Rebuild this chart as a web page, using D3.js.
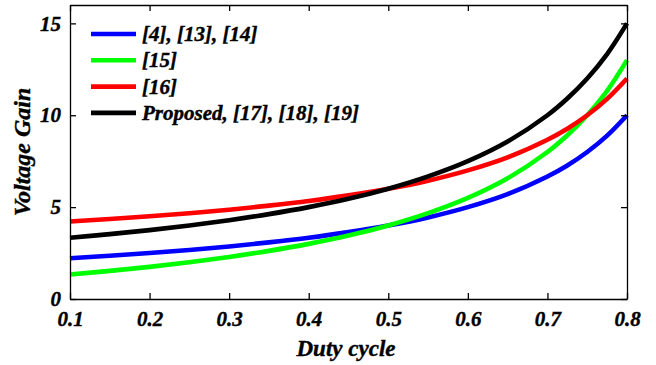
<!DOCTYPE html>
<html>
<head>
<meta charset="utf-8">
<script src="https://d3js.org/d3.v7.min.js"></script>
<style>
  body { margin: 0; background: #fff; }
  svg { display: block; }
</style>
</head>
<body>
<svg id="chart" width="656" height="365"></svg>
<script>
// duty cycle samples
const duty = [0.1, 0.15, 0.2, 0.25, 0.3, 0.35, 0.4, 0.45, 0.5, 0.55, 0.6, 0.65, 0.7, 0.725, 0.75, 0.775, 0.8];

// voltage gain
const gainRef4 = [2.22, 2.35, 2.5, 2.67, 2.86, 3.08, 3.33, 3.64, 4, 4.44, 5, 5.71, 6.67, 7.27, 8, 8.89, 10];
const gainRef15 = [1.33, 1.53, 1.75, 2, 2.29, 2.62, 3, 3.45, 4, 4.67, 5.5, 6.57, 8, 8.91, 10, 11.33, 13];
const gainRef16 = [4.22, 4.35, 4.5, 4.67, 4.86, 5.08, 5.33, 5.64, 6, 6.44, 7, 7.71, 8.67, 9.27, 10, 10.89, 12];
const gainProposed = [3.33, 3.53, 3.75, 4, 4.29, 4.62, 5, 5.45, 6, 6.67, 7.5, 8.57, 10, 10.91, 12, 13.33, 15];

const seriesNames = ['[4], [13], [14]', '[15]', '[16]', 'Proposed, [17], [18], [19]'];
const seriesColors = ['#0000ff', '#00ff00', '#ff0000', '#000000'];
const seriesValues = [gainRef4, gainRef15, gainRef16, gainProposed];

const xTicks = [0.1, 0.2, 0.3, 0.4, 0.5, 0.6, 0.7, 0.8];
const yTicks = [0, 5, 10, 15];

const FONT = '"Liberation Serif", "Times New Roman", Times, serif';

const margin = {top: 5, right: 29, bottom: 66, left: 70};
const width = 656, height = 365;

const svg = d3.select('#chart');

const x = d3.scaleLinear().domain([0.1, 0.8]).range([margin.left, width - margin.right]);
const y = d3.scaleLinear().domain([0, 16]).range([height - margin.bottom, margin.top]);

// lines
const line = d3.line()
    .x(d => x(d[0]))
    .y(d => y(d[1]))
    .curve(d3.curveCatmullRom.alpha(0.5));

const plot = svg.append('g');

seriesValues.forEach((vals, i) => {
  plot.append('path')
      .attr('d', line(duty.map((d, j) => [d, vals[j]])))
      .attr('fill', 'none')
      .attr('stroke', seriesColors[i])
      .attr('stroke-width', 4.6);
});

// axes (ticks inward)
const fmtX = d3.format('.1f');
const xAxisB = d3.axisBottom(x).tickValues(xTicks).tickFormat(fmtX).tickSizeInner(-6).tickSizeOuter(0).tickPadding(12);
const xAxisT = d3.axisTop(x).tickValues(xTicks).tickFormat('').tickSizeInner(-6).tickSizeOuter(0);
const yAxisL = d3.axisLeft(y).tickValues(yTicks).tickSizeInner(-6).tickSizeOuter(0).tickPadding(9);
const yAxisR = d3.axisRight(y).tickValues(yTicks).tickFormat('').tickSizeInner(-6).tickSizeOuter(0);

const gB = svg.append('g').attr('transform', 'translate(0,' + (height - margin.bottom) + ')').call(xAxisB);
const gT = svg.append('g').attr('transform', 'translate(0,' + margin.top + ')').call(xAxisT);
const gL = svg.append('g').attr('transform', 'translate(' + margin.left + ',0)').call(yAxisL);
const gR = svg.append('g').attr('transform', 'translate(' + (width - margin.right) + ',0)').call(yAxisR);

[gB, gT, gL, gR].forEach(g => {
  g.attr('font-family', FONT).attr('font-size', 21);
  g.select('.domain').attr('stroke', '#000').attr('stroke-width', 1.3);
  g.selectAll('.tick line').attr('stroke', '#000').attr('stroke-width', 1.3);
  g.selectAll('.tick text')
      .attr('fill', '#000')
      .attr('stroke', '#000')
      .attr('stroke-width', 0.4)
      .attr('font-weight', 'bold')
      .attr('font-style', 'italic');
});

// axis titles
function label(sel, size) {
  return sel.attr('font-family', FONT)
      .attr('font-weight', 'bold')
      .attr('font-style', 'italic')
      .attr('font-size', size)
      .attr('stroke', '#000')
      .attr('stroke-width', 0.4);
}

label(svg.append('text'), 23)
    .attr('x', 346)
    .attr('y', 356)
    .attr('text-anchor', 'middle')
    .text('Duty cycle');

label(svg.append('text'), 24)
    .attr('transform', 'translate(30,152) rotate(-90)')
    .attr('text-anchor', 'middle')
    .text('Voltage Gain');

// legend
const legend = svg.append('g').attr('transform', 'translate(91,34)');
seriesNames.forEach((name, i) => {
  const row = legend.append('g').attr('transform', 'translate(0,' + (i * 26.3) + ')');
  row.append('line')
      .attr('x1', 0).attr('x2', 45)
      .attr('stroke', seriesColors[i])
      .attr('stroke-width', 4.6);
  label(row.append('text'), 21)
      .attr('x', 51).attr('y', 7)
      .text(name);
});
</script>
</body>
</html>
